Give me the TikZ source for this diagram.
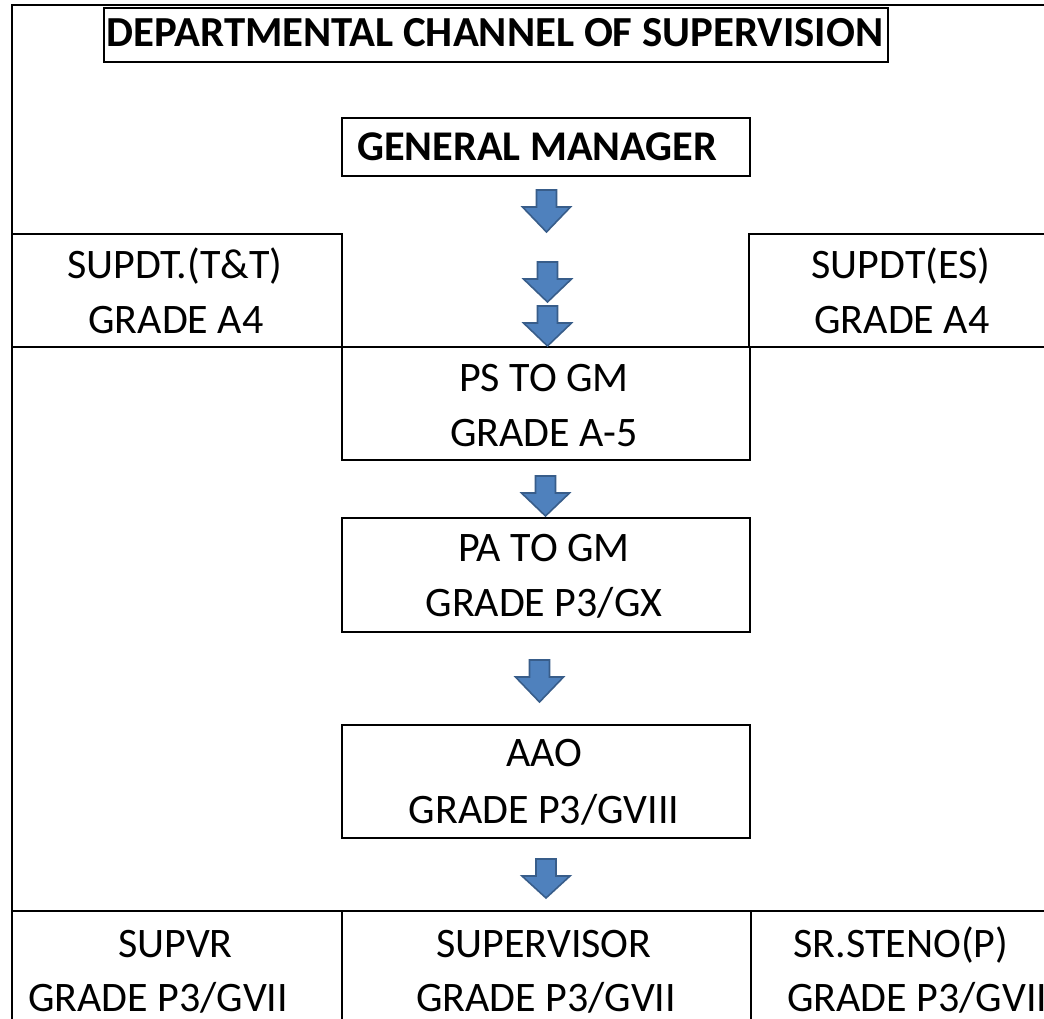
\documentclass[tikz,border=0pt]{standalone}
\usepackage{fontspec}
\setmainfont{Carlito}
\definecolor{arrfill}{RGB}{79,129,189}
\definecolor{arrline}{RGB}{56,93,138}
\begin{document}
\begin{tikzpicture}[x=1pt,y=-1pt,
  cell/.style={draw=black, line width=1.8pt, rectangle, inner sep=0pt, anchor=north west},
  txt/.style={font=\fontsize{42}{50}\selectfont, anchor=base, inner sep=0pt},
  txtw/.style={font=\fontsize{42}{50}\selectfont, anchor=base west, inner sep=0pt},
  btxt/.style={font=\fontsize{42.8}{50}\selectfont\bfseries, anchor=base, inner sep=0pt},
  btxtw/.style={font=\fontsize{42.3}{50}\selectfont\bfseries, anchor=base west, inner sep=0pt},
  arrowfill/.style={fill=arrfill, draw=arrline, line width=1.6pt, line join=miter},
  pics/barrow/.style={code={
    \draw[arrowfill] (-10,0) -- (10,0) -- (10,17) -- (24,17) -- (0,#1) -- (-24,17) -- (-10,17) -- cycle;}}
]
\path[use as bounding box, clip] (0,0) rectangle (1044,1019);
\fill[white] (0,0) rectangle (1044,1019);

% outer frame
\node[cell, minimum width=1060pt, minimum height=1040pt] (frame) at (11,4) {};

% boxes
\node[cell, minimum width=784pt, minimum height=54pt]  (title) at (103,7) {};
\node[cell, minimum width=408pt, minimum height=58pt]  (gm)    at (341,117) {};
\node[cell, minimum width=330pt, minimum height=113pt] (supl)  at (11,233) {};
\node[cell, minimum width=330pt, minimum height=113pt] (supr)  at (748,233) {};
\node[cell, minimum width=408pt, minimum height=113pt] (ps)    at (341,346) {};
\node[cell, minimum width=408pt, minimum height=114pt] (pa)    at (341,517) {};
\node[cell, minimum width=408pt, minimum height=113pt] (aao)   at (341,724) {};
\node[cell, minimum width=330pt, minimum height=130pt] (b1)    at (11,910) {};
\node[cell, minimum width=409pt, minimum height=130pt] (b2)    at (341,910) {};
\node[cell, minimum width=330pt, minimum height=130pt] (b3)    at (750,910) {};

% texts
\node[btxt]  (tTitle) at (495,47) {DEPARTMENTAL CHANNEL OF SUPERVISION};
\node[btxtw] (tGM)    at (357,161) {GENERAL MANAGER};
\node[txt] (tSL1) at (175,278) {SUPDT.(T\&T)};
\node[txt] (tSL2) at (176,333) {GRADE A4};
\node[txt] (tSR1) at (901,278) {SUPDT(ES)};
\node[txt] (tSR2) at (902,333) {GRADE A4};
\node[txt] (tPS1) at (544,391.7) {PS TO GM};
\node[txt] (tPS2) at (544,446.7) {GRADE A-5};
\node[txt] (tPA1) at (544,561.7) {PA TO GM};
\node[txt] (tPA2) at (544,616.7) {GRADE P3/GX};
\node[txt] (tAA1) at (544,766.7) {AAO};
\node[txt] (tAA2) at (544,823) {GRADE P3/GVIII};
\node[txt] (tB11) at (175.5,957) {SUPVR};
\node[txt] (tB12) at (158,1011) {GRADE P3/GVII};
\node[txt] (tB21) at (544,957) {SUPERVISOR};
\node[txt] (tB22) at (546,1011) {GRADE P3/GVII};
\node[txtw] (tB31) at (793,957) {SR.STENO(P)};
\node[txtw] (tB32) at (787,1011) {GRADE P3/GVII};

% block arrows
\coordinate (a1) at (546.5,190);
\coordinate (a2) at (547.5,262);
\coordinate (a3) at (547.5,306);
\coordinate (a4) at (545.5,476);
\coordinate (a5) at (539.5,660);
\coordinate (a6) at (546,859);
\pic at (a1) {barrow=42};
\pic at (a2) {barrow=40};
\pic at (a3) {barrow=40};
\pic at (a4) {barrow=40};
\pic at (a5) {barrow=42};
\pic at (a6) {barrow=39};
\end{tikzpicture}
\end{document}
